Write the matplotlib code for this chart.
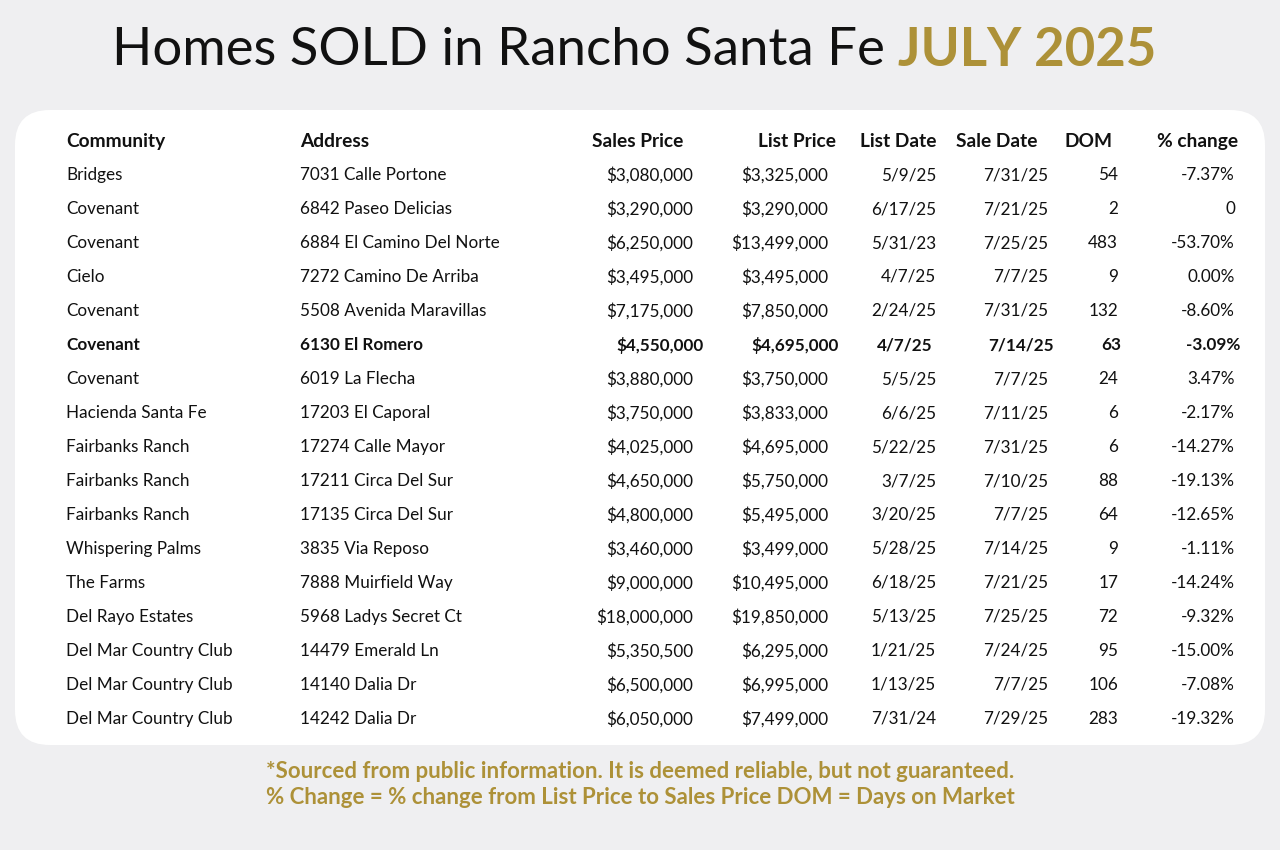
import matplotlib
matplotlib.use("Agg")
import matplotlib.pyplot as plt
from matplotlib.patches import FancyBboxPatch

community = ["Bridges","Covenant","Covenant","Cielo","Covenant","Covenant","Covenant","Hacienda Santa Fe",
             "Fairbanks Ranch","Fairbanks Ranch","Fairbanks Ranch","Whispering Palms","The Farms",
             "Del Rayo Estates","Del Mar Country Club","Del Mar Country Club","Del Mar Country Club"]
address = ["7031 Calle Portone","6842 Paseo Delicias","6884 El Camino Del Norte","7272 Camino De Arriba",
           "5508 Avenida Maravillas","6130 El Romero","6019 La Flecha","17203 El Caporal","17274 Calle Mayor",
           "17211 Circa Del Sur","17135 Circa Del Sur","3835 Via Reposo","7888 Muirfield Way",
           "5968 Ladys Secret Ct","14479 Emerald Ln","14140 Dalia Dr","14242 Dalia Dr"]
sales_price = ["$3,080,000","$3,290,000","$6,250,000","$3,495,000","$7,175,000","$4,550,000","$3,880,000",
               "$3,750,000","$4,025,000","$4,650,000","$4,800,000","$3,460,000","$9,000,000","$18,000,000",
               "$5,350,500","$6,500,000","$6,050,000"]
list_price = ["$3,325,000","$3,290,000","$13,499,000","$3,495,000","$7,850,000","$4,695,000","$3,750,000",
              "$3,833,000","$4,695,000","$5,750,000","$5,495,000","$3,499,000","$10,495,000","$19,850,000",
              "$6,295,000","$6,995,000","$7,499,000"]
list_date = ["5/9/25","6/17/25","5/31/23","4/7/25","2/24/25","4/7/25","5/5/25","6/6/25","5/22/25","3/7/25",
             "3/20/25","5/28/25","6/18/25","5/13/25","1/21/25","1/13/25","7/31/24"]
sale_date = ["7/31/25","7/21/25","7/25/25","7/7/25","7/31/25","7/14/25","7/7/25","7/11/25","7/31/25","7/10/25",
             "7/7/25","7/14/25","7/21/25","7/25/25","7/24/25","7/7/25","7/29/25"]
dom = ["54","2","483","9","132","63","24","6","6","88","64","9","17","72","95","106","283"]
pct_change = ["-7.37%","0","-53.70%","0.00%","-8.60%","-3.09%","3.47%","-2.17%","-14.27%","-19.13%",
              "-12.65%","-1.11%","-14.24%","-9.32%","-15.00%","-7.08%","-19.32%"]
headers = ["Community","Address","Sales Price","List Price","List Date","Sale Date","DOM","% change"]
bold_row = 5

W, H = 1280, 850
GOLD = "#ad9138"
FONT = "Lato"
fig = plt.figure(figsize=(12.8, 8.5), dpi=100)
fig.patch.set_facecolor("#efeff1")
ax = fig.add_axes([0, 0, 1, 1])
ax.set_xlim(0, W); ax.set_ylim(H, 0); ax.axis("off")

ax.add_patch(FancyBboxPatch((15, 110), 1250, 635, boxstyle="round,pad=0,rounding_size=35",
                            facecolor="white", edgecolor="none"))

t1 = ax.text(112, 50, "Homes SOLD in Rancho Santa Fe ", fontsize=38, family=FONT, ha="left", va="center",
             color="#111111")
fig.canvas.draw()
bb = t1.get_window_extent()
ax.text(bb.x1, 50, "JULY 2025", fontsize=38, family=FONT, weight="bold", ha="left", va="center", color=GOLD)

hdr_pos = [(66, "left"), (300, "left"), (683, "right"), (836, "right"), (936, "right"), (1037, "right"),
           (1089, "center"), (1238, "right")]
val_pos = [(66, "left"), (300, "left"), (693, "right"), (828, "right"), (936, "right"), (1048, "right"),
           (1118, "right"), (1235, "right")]
bold_pos = [(66, "left"), (300, "left"), (704, "right"), (839, "right"), (933, "right"), (1054, "right"),
            (1121, "right"), (1240, "right")]

for (x, ha), h in zip(hdr_pos, headers):
    ax.text(x, 141, h, fontsize=13.8, family=FONT, weight="bold", ha=ha, va="center", color="#111111")

cols = [community, address, sales_price, list_price, list_date, sale_date, dom, pct_change]
for i in range(len(community)):
    y = 175 + 34 * i
    pos = bold_pos if i == bold_row else val_pos
    for (x, ha), col in zip(pos, cols):
        ax.text(x, y, col[i], fontsize=12.3, family=FONT, ha=ha, va="center", color="#111111",
                weight="bold" if i == bold_row else "normal")

ax.text(640, 772, "*Sourced from public information. It is deemed reliable, but not guaranteed.",
        fontsize=16, family=FONT, weight="bold", ha="center", va="center", color=GOLD)
ax.text(640, 798, "% Change = % change from List Price to Sales Price DOM = Days on Market",
        fontsize=16, family=FONT, weight="bold", ha="center", va="center", color=GOLD)

fig.savefig("out.png", dpi=100, facecolor=fig.get_facecolor())
